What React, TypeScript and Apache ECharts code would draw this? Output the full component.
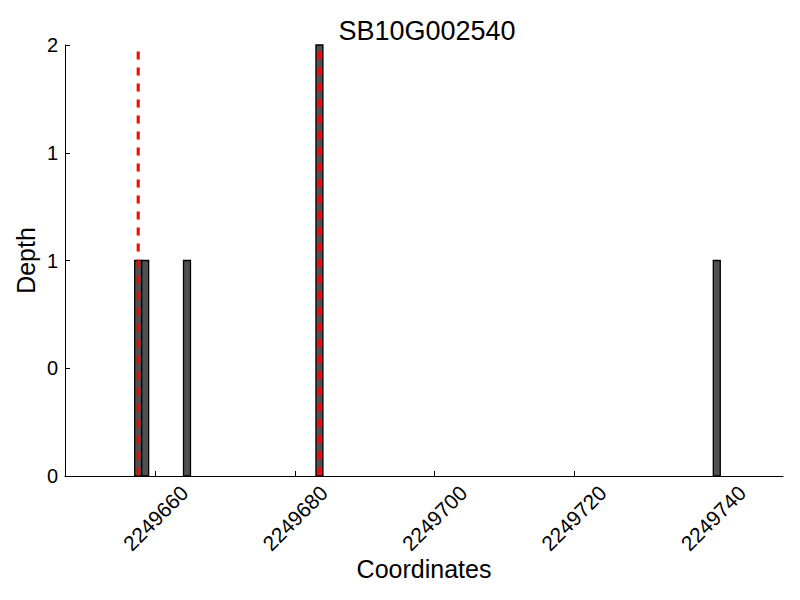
import React, { useEffect, useRef } from "react";
import * as echarts from "echarts";

const chartTitle = "SB10G002540";
const xAxisName = "Coordinates";
const yAxisName = "Depth";
// left edges of the 1-bp bins and their depth
const binStarts = [2249657, 2249658, 2249664, 2249683, 2249740];
const binDepths = [1, 1, 1, 2, 1];
// red dashed markers
const markerPositions = [2249657.5, 2249683.5];
const markerTop = 1.97;
const xTicks = [2249660, 2249680, 2249700, 2249720, 2249740];
const xMin = 2249647;
const xMax = 2249750;
const yTicks = [0, 0.5, 1, 1.5, 2];

const FONT = "'Liberation Sans', Arial, Helvetica, sans-serif";

export default function App() {
  const ref = useRef<HTMLDivElement>(null);
  useEffect(() => {
    if (!ref.current) return;
    const chart = echarts.init(ref.current, null, { renderer: "svg" });
    const barData = binStarts.map((s, i) => [s, binDepths[i]]);
    const markerSeries = markerPositions.map((x) => ({
      type: "line",
      data: [
        [x, markerTop],
        [x, 0],
      ],
      symbol: "none",
      z: 5,
      lineStyle: { color: "#ff0000", width: 3, type: [8, 8] },
      silent: true,
    }));
    chart.setOption({
      animation: false,
      backgroundColor: "#ffffff",
      textStyle: { fontFamily: FONT },
      title: {
        text: chartTitle,
        left: 422,
        top: 12,
        textAlign: "center",
        textStyle: { fontFamily: FONT, fontSize: 27, fontWeight: "normal", color: "#000" },
      },
      grid: { left: 65, right: 17, top: 45, bottom: 124, containLabel: false },
      xAxis: {
        type: "value",
        min: xMin,
        max: xMax,
        name: xAxisName,
        nameLocation: "middle",
        nameGap: 80,
        nameMoveOverlap: false,
        nameTextStyle: { fontFamily: FONT, fontSize: 25, color: "#000" },
        axisLine: { show: true, lineStyle: { color: "#000", width: 1 } },
        axisTick: { show: true, inside: true, length: 5, customValues: xTicks, lineStyle: { color: "#000" } },
        axisLabel: {
          customValues: xTicks,
          rotate: 45,
          align: "center",
          verticalAlign: "middle",
          margin: 42,
          fontFamily: FONT,
          fontSize: 21,
          color: "#000",
          formatter: (v: number) => String(v),
        },
        splitLine: { show: false },
      },
      yAxis: {
        type: "value",
        min: 0,
        max: 2,
        interval: 0.5,
        name: yAxisName,
        nameLocation: "middle",
        nameGap: 27,
        nameMoveOverlap: false,
        nameTextStyle: { fontFamily: FONT, fontSize: 25, color: "#000" },
        axisLine: { show: true, lineStyle: { color: "#000", width: 1 } },
        axisTick: { show: true, inside: true, length: 5, lineStyle: { color: "#000" } },
        axisLabel: {
          margin: 7,
          fontFamily: FONT,
          fontSize: 20,
          color: "#000",
          formatter: (v: number) => String(Math.trunc(v)),
          customValues: yTicks,
        },
        splitLine: { show: false },
      },
      series: [
        {
          type: "custom",
          data: barData,
          z: 2,
          renderItem: (params: any, api: any) => {
            const start = api.value(0);
            const depth = api.value(1);
            const p0 = api.coord([start, depth]);
            const p1 = api.coord([start + 1, 0]);
            return {
              type: "rect",
              shape: { x: p0[0], y: p0[1], width: p1[0] - p0[0], height: p1[1] - p0[1] },
              style: { fill: "#505050", stroke: "#000000", lineWidth: 1.3 },
            };
          },
        },
        ...markerSeries,
      ],
    });
    return () => chart.dispose();
  }, []);
  return (
    <div
      ref={ref}
      style={{ position: "fixed", left: 0, top: 0, width: 800, height: 600, background: "#fff" }}
    />
  );
}
